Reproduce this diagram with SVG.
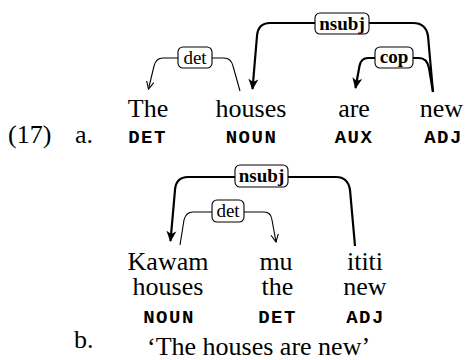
<svg xmlns="http://www.w3.org/2000/svg" width="465" height="360" viewBox="0 0 465 360">
<style>
.w{font-family:"Liberation Serif","Times New Roman",serif;font-size:26px;fill:#000;text-anchor:middle}
.n{font-family:"Liberation Serif","Times New Roman",serif;font-size:26px;fill:#000}
.p{font-family:"Liberation Mono","Courier New",monospace;font-size:19px;font-weight:bold;letter-spacing:1.5px;fill:#000;text-anchor:middle}
.lb{fill:#fff;stroke:#000;stroke-width:1.1}
.lt{font-family:"Liberation Serif","Times New Roman",serif;font-size:19px;fill:#000;text-anchor:middle}
.b{font-weight:bold}
.thick{fill:none;stroke:#000;stroke-width:2.2;marker-end:url(#ah)}
.thin{fill:none;stroke:#000;stroke-width:1.1;marker-end:url(#al)}
</style>
<defs>
<marker id="ah" markerUnits="userSpaceOnUse" markerWidth="12" markerHeight="12" viewBox="0 0 12 12" refX="10" refY="6" orient="auto">
<path d="M0,1 L11,6 L0,11 L3,6 z" fill="#000"/>
</marker>
<marker id="al" markerUnits="userSpaceOnUse" markerWidth="9" markerHeight="9" viewBox="0 0 9 9" refX="8" refY="4.5" orient="auto">
<path d="M0.5,0.8 L8,4.5 L0.5,8.2" fill="none" stroke="#000" stroke-width="1.1"/>
</marker>
</defs>

<g id="connectors">
<path class="thin" d="M240,91 L233,66 Q231,58 224,58 L163,58 Q156,58 154,66 L148.5,89"/>
<path class="thick" d="M433,92 L428,36 Q426,23 413,23 L270,23 Q258,23 257,36 L252.5,89"/>
<path class="thick" d="M433,92 L429,68 Q427,58 419,58 L368,58 Q361,58 359.5,66 L355.5,88"/>
<path class="thick" d="M355,246 L350,190 Q348,177 336,177 L188,177 Q176,177 175,190 L170.5,241"/>
<path class="thin" d="M180,245 L184,220 Q186,212 193,212 L264,212 Q271,212 272,220 L276,242"/>
</g>

<g id="label-a-det"><rect class="lb" x="178" y="47" width="34" height="21" rx="5"/><text class="lt" x="195" y="64">det</text></g>
<g id="label-a-nsubj"><rect class="lb" x="315" y="13" width="54" height="21" rx="5"/><text class="lt b" x="342" y="29.5">nsubj</text></g>
<g id="label-a-cop"><rect class="lb" x="375" y="47" width="38" height="21" rx="5"/><text class="lt b" x="394" y="63">cop</text></g>
<g id="label-b-nsubj"><rect class="lb" x="235" y="165" width="53" height="22" rx="5"/><text class="lt b" x="261.5" y="182">nsubj</text></g>
<g id="label-b-det"><rect class="lb" x="212" y="200" width="32" height="22" rx="5"/><text class="lt" x="228" y="217">det</text></g>

<g id="ex-num"><text class="n" x="8" y="143">(17)</text></g>
<g id="ex-a"><text class="n" x="75" y="143">a.</text></g>
<g id="ex-b"><text class="n" x="74" y="348">b.</text></g>

<g id="a-the"><text class="w" x="148" y="117">The</text><text class="p" x="147.5" y="143">DET</text></g>
<g id="a-houses"><text class="w" x="251" y="117">houses</text><text class="p" x="251.5" y="143">NOUN</text></g>
<g id="a-are"><text class="w" x="354" y="117">are</text><text class="p" x="354" y="143">AUX</text></g>
<g id="a-new"><text class="w" x="441.5" y="117">new</text><text class="p" x="443.5" y="143">ADJ</text></g>

<g id="b-kawam"><text class="w" x="168" y="270">Kawam</text><text class="w" x="168" y="295">houses</text><text class="p" x="169" y="323">NOUN</text></g>
<g id="b-mu"><text class="w" x="276" y="270">mu</text><text class="w" x="277.5" y="295">the</text><text class="p" x="277.5" y="323">DET</text></g>
<g id="b-ititi"><text class="w" x="365" y="270">ititi</text><text class="w" x="365" y="295">new</text><text class="p" x="365.5" y="323">ADJ</text></g>

<g id="gloss"><text class="n" x="147" y="355">‘The houses are new’</text></g>
</svg>
